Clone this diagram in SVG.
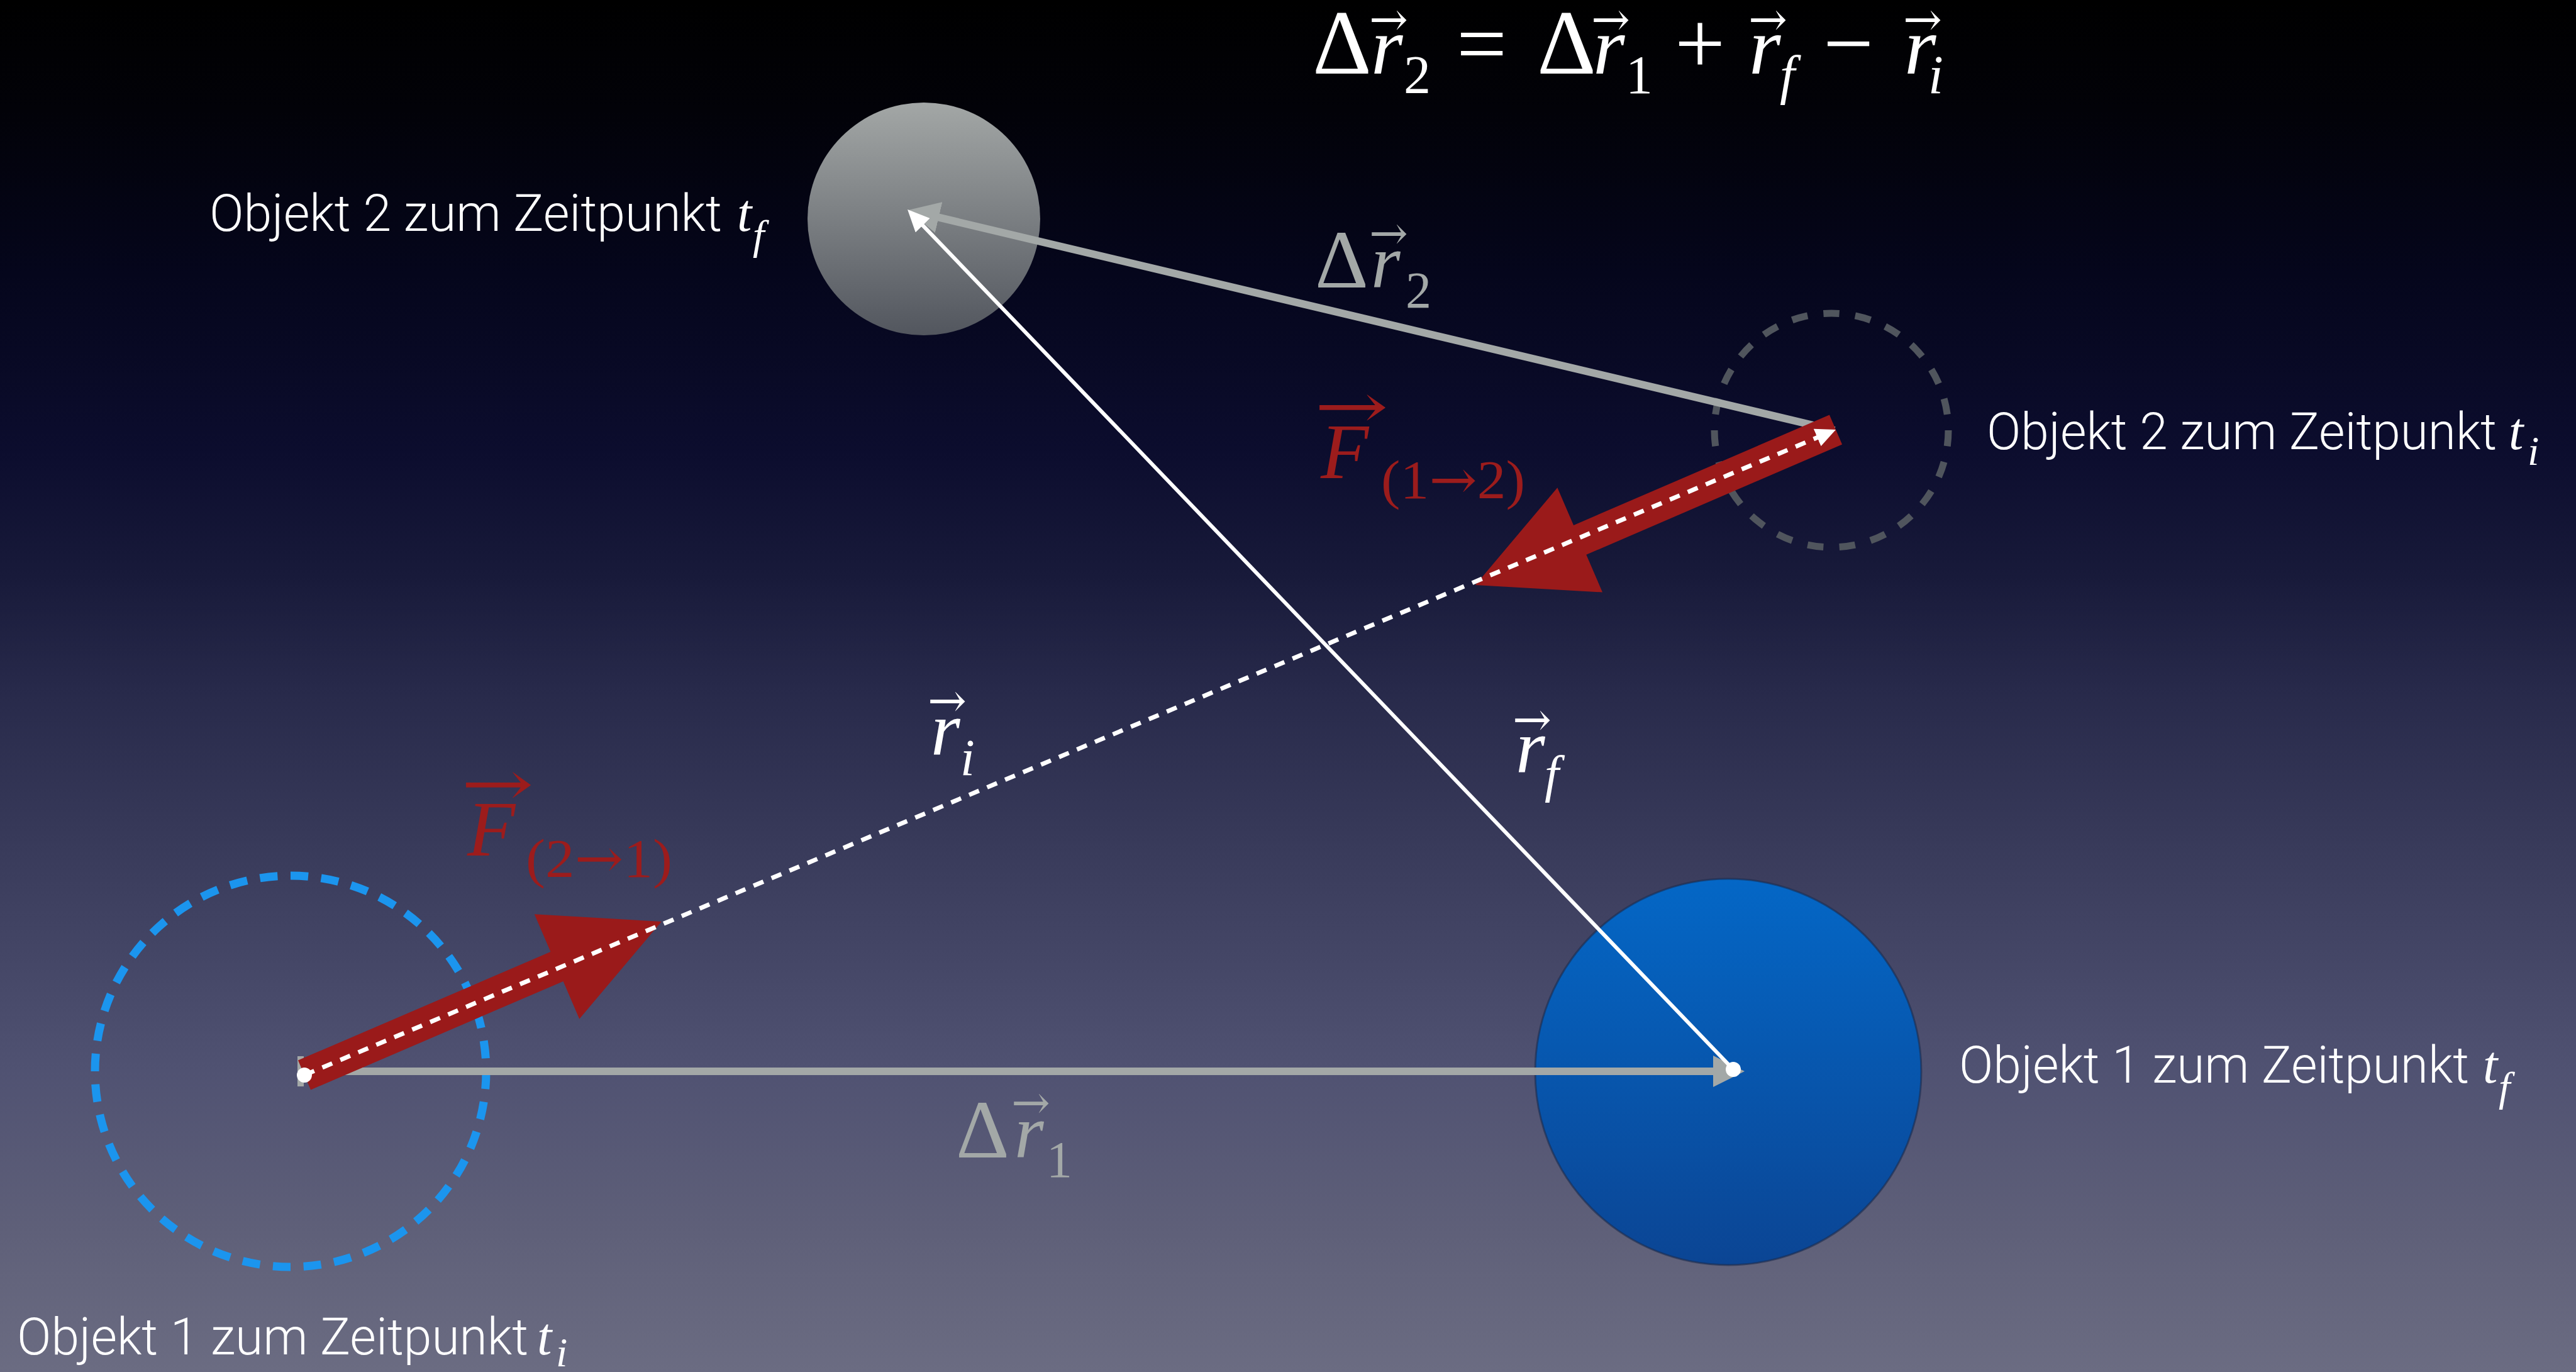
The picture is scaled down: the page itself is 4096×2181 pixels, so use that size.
<svg xmlns="http://www.w3.org/2000/svg" width="4096" height="2181" viewBox="0 0 4096 2181">
<defs>
<linearGradient id="bg" x1="0" y1="0" x2="0" y2="1">
<stop offset="0" stop-color="#000000"/>
<stop offset="0.08" stop-color="#020208"/>
<stop offset="0.2" stop-color="#05061c"/>
<stop offset="0.33" stop-color="#0c0d2e"/>
<stop offset="0.42" stop-color="#181a3a"/>
<stop offset="0.5" stop-color="#27294a"/>
<stop offset="0.6" stop-color="#363858"/>
<stop offset="0.78" stop-color="#505272"/>
<stop offset="0.9" stop-color="#5f6079"/>
<stop offset="1" stop-color="#6b6c82"/>
</linearGradient>
<linearGradient id="gGrey" x1="0" y1="0" x2="0" y2="1">
<stop offset="0" stop-color="#a3a7a6"/>
<stop offset="1" stop-color="#52565e"/>
</linearGradient>
<linearGradient id="gBlue" x1="0" y1="0" x2="0" y2="1">
<stop offset="0" stop-color="#0467c6"/>
<stop offset="1" stop-color="#0b4594"/>
</linearGradient>
<marker id="mGrey" markerUnits="userSpaceOnUse" viewBox="0 0 50 50" markerWidth="50" markerHeight="50" refX="3" refY="25" orient="auto"><path d="M0,0 L50,25 L0,50 z" fill="#a3a8a7"/></marker>
<marker id="mWhite" markerUnits="userSpaceOnUse" viewBox="0 0 35 32" markerWidth="35" markerHeight="32" refX="3" refY="16" orient="auto"><path d="M0,0 L35,16 L0,32 z" fill="#ffffff"/></marker>
<marker id="mWhiteS" markerUnits="userSpaceOnUse" viewBox="0 0 32 30" markerWidth="32" markerHeight="30" refX="3" refY="15" orient="auto"><path d="M0,0 L32,15 L0,30 z" fill="#ffffff"/></marker>
</defs>
<style>
.sans{font-family:Roboto,'Liberation Sans',sans-serif;font-weight:300;font-size:81px;fill:#ffffff}
.math{font-family:'Liberation Serif','Times New Roman',serif}
.it{font-style:italic}
.w{fill:#ffffff}
.g{fill:#a3a8a7}
.r{fill:#9c1c1c}
.arr{font-family:'DejaVu Serif',serif;font-size:74px}
.arrF{font-family:'DejaVu Serif',serif;font-size:100px}
.arrS{font-family:'DejaVu Serif',serif}
.grey-line{stroke:#a3a8a7;stroke-width:12;fill:none}
.red{fill:#9a1a1a}
</style>
<rect x="0" y="0" width="4096" height="2181" fill="url(#bg)"/>

<g id="obj2-tf">
<circle cx="1469" cy="348" r="185" fill="url(#gGrey)"/>
<text class="sans" x="333" y="367" textLength="815" lengthAdjust="spacingAndGlyphs">Objekt 2 zum Zeitpunkt</text>
<text class="math it w" x="1172" y="367" font-size="84">t</text>
<text class="math it w" x="1197" y="396" font-size="66">f</text>
</g>

<g id="obj1-tf">
<circle cx="2748" cy="1704" r="307" fill="url(#gBlue)" stroke="#1d2c4d" stroke-opacity="0.6" stroke-width="3"/>
<text class="sans" x="3115" y="1721" textLength="811" lengthAdjust="spacingAndGlyphs">Objekt 1 zum Zeitpunkt</text>
<text class="math it w" x="3948" y="1721" font-size="84">t</text>
<text class="math it w" x="3973" y="1750" font-size="66">f</text>
</g>

<g id="obj2-ti">
<circle cx="2912" cy="684" r="186" fill="none" stroke="#50555d" stroke-width="11" pathLength="460" stroke-dasharray="10 10"/>
<text class="sans" x="3159" y="714" textLength="811" lengthAdjust="spacingAndGlyphs">Objekt 2 zum Zeitpunkt</text>
<text class="math it w" x="3989" y="714" font-size="84">t</text>
<text class="math it w" x="4019" y="739" font-size="66">i</text>
</g>

<g id="obj1-ti">
<circle cx="462" cy="1703" r="311" fill="none" stroke="#1b95ee" stroke-width="13" pathLength="800" stroke-dasharray="11.5 8.5"/>
<text class="sans" x="27" y="2153" textLength="813" lengthAdjust="spacingAndGlyphs">Objekt 1 zum Zeitpunkt</text>
<text class="math it w" x="854" y="2153" font-size="84">t</text>
<text class="math it w" x="884" y="2172" font-size="66">i</text>
</g>

<g id="connectors">
<line class="grey-line" x1="2917" y1="684" x2="1489.7" y2="344.9" marker-end="url(#mGrey)"/>
<rect x="473" y="1679" width="10" height="48" fill="#a3a8a7"/>
<line class="grey-line" x1="484" y1="1703" x2="2727" y2="1703" marker-end="url(#mGrey)"/>
<polygon class="red" transform="translate(484,1709) rotate(-23.25)" points="0,-25.5 437,-25.5 437,-90.5 618,0 437,90.5 437,25.5 0,25.5"/>
<polygon class="red" transform="translate(2919,683) rotate(156.68)" points="0,-25.5 443,-25.5 443,-90.5 624,0 443,90.5 443,25.5 0,25.5"/>
<line x1="2756" y1="1700" x2="1465.2" y2="356.1" stroke="#ffffff" stroke-width="6" marker-end="url(#mWhite)"/>
<line x1="484" y1="1709" x2="2892.3" y2="694.3" stroke="#ffffff" stroke-width="7" stroke-dasharray="17 14" marker-end="url(#mWhiteS)"/>
<circle cx="484" cy="1709" r="12" fill="#ffffff"/>
<circle cx="2756" cy="1700" r="12" fill="#ffffff"/>
</g>

<g id="vector-labels">
<g id="lbl-dr2" class="math g">
<text x="2091" y="457" font-size="132">Δ</text>
<text class="it" x="2180" y="457" font-size="120">r</text>
<text x="2235" y="489" font-size="82">2</text>
<text class="arr" x="2177" y="396">→</text>
</g>
<g id="lbl-dr1" class="math g">
<text x="1520" y="1840" font-size="132">Δ</text>
<text class="it" x="1613" y="1840" font-size="120">r</text>
<text x="1664" y="1871" font-size="82">1</text>
<text class="arr" x="1608" y="1778">→</text>
</g>
<g id="lbl-ri" class="math w">
<text class="it" x="1480" y="1200" font-size="120">r</text>
<text class="it" x="1527" y="1232" font-size="82">i</text>
<text class="arr" x="1475" y="1139">→</text>
</g>
<g id="lbl-rf" class="math w">
<text class="it" x="2410" y="1228" font-size="120">r</text>
<text class="it" x="2456" y="1258" font-size="82">f</text>
<text class="arr" x="2405" y="1169">→</text>
</g>
<g id="lbl-f12" class="math r">
<text class="it" x="2100" y="760" font-size="125">F</text>
<text x="2196" y="792" font-size="86" textLength="229" lengthAdjust="spacingAndGlyphs">(1<tspan class="arrS">→</tspan>2)</text>
<text class="arrF" x="2090" y="680" textLength="118" lengthAdjust="spacingAndGlyphs">→</text>
</g>
<g id="lbl-f21" class="math r">
<text class="it" x="743" y="1360" font-size="125">F</text>
<text x="836" y="1394" font-size="86" textLength="233" lengthAdjust="spacingAndGlyphs">(2<tspan class="arrS">→</tspan>1)</text>
<text class="arrF" x="733" y="1280" textLength="116" lengthAdjust="spacingAndGlyphs">→</text>
</g>
</g>

<g id="equation" class="math w">
<text x="2087" y="117" font-size="146">Δ</text>
<text class="it" x="2180" y="117" font-size="130">r</text>
<text x="2232" y="148" font-size="86">2</text>
<text x="2316" y="117" font-size="142">=</text>
<text x="2444" y="117" font-size="146">Δ</text>
<text class="it" x="2533" y="117" font-size="130">r</text>
<text x="2585" y="148" font-size="86">1</text>
<text x="2663" y="117" font-size="142">+</text>
<text class="it" x="2781" y="117" font-size="130">r</text>
<text class="it" x="2830" y="148" font-size="86">f</text>
<text x="2899" y="117" font-size="142">−</text>
<text class="it" x="3028" y="117" font-size="130">r</text>
<text class="it" x="3066" y="148" font-size="86">i</text>
<text class="arr" x="2177" y="56">→</text>
<text class="arr" x="2530" y="56">→</text>
<text class="arr" x="2780" y="56">→</text>
<text class="arr" x="3026" y="56">→</text>
</g>
</svg>
